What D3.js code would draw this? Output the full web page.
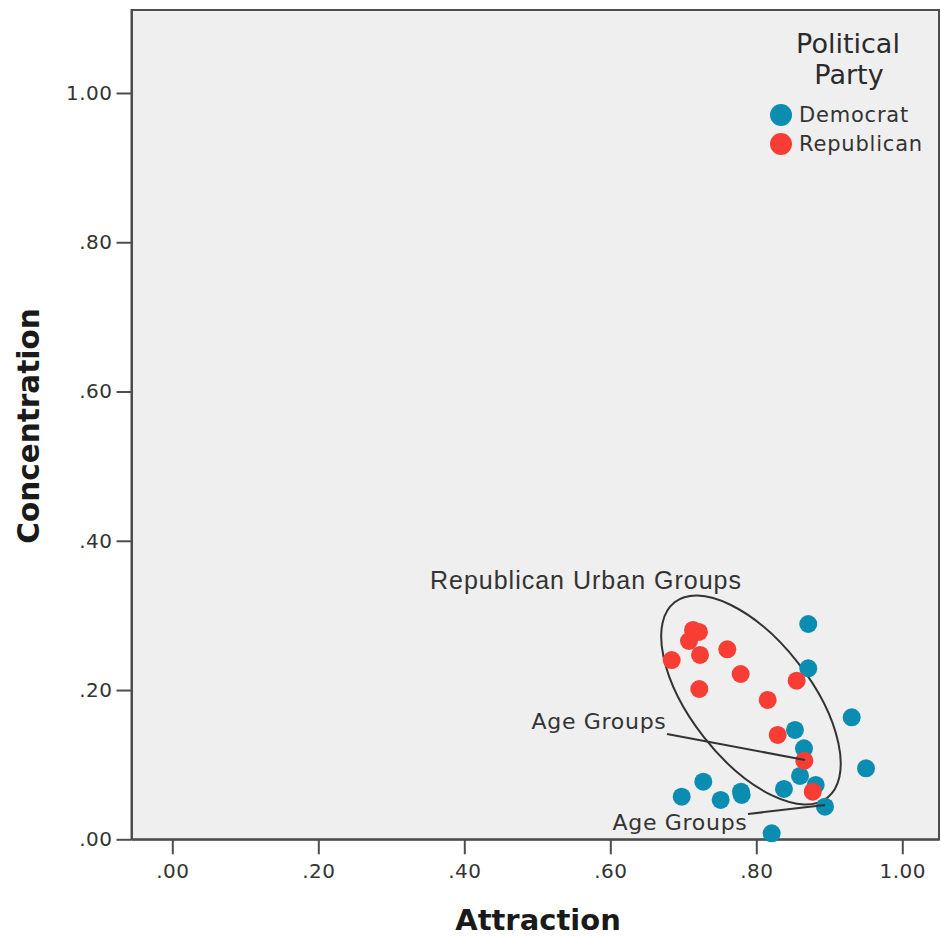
<!DOCTYPE html>
<html>
<head>
<meta charset="utf-8">
<script src="https://cdn.jsdelivr.net/npm/d3@7"></script>
<style>
  html, body { margin: 0; padding: 0; background: #ffffff; }
  svg { display: block; }
  text { font-family: "DejaVu Sans", sans-serif; }
</style>
</head>
<body>
<svg id="chart" width="941" height="937"></svg>
<script>
// ---- data ----
const xTicks = [0, 0.2, 0.4, 0.6, 0.8, 1.0];
const yTicks = [0, 0.2, 0.4, 0.6, 0.8, 1.0];
const parties = ["Democrat", "Republican"];

const democratAttraction = [0.8712, 0.8712, 0.9307, 0.8530, 0.8653, 0.9503, 0.8599, 0.8814, 0.8379, 0.8941, 0.7274, 0.6978, 0.7512, 0.7790, 0.7800, 0.8211];
const democratConcentration = [0.2885, 0.2291, 0.1635, 0.1465, 0.1219, 0.0951, 0.0849, 0.0728, 0.0675, 0.0437, 0.0772, 0.0571, 0.0527, 0.0638, 0.0594, 0.0080];

const republicanAttraction = [0.7133, 0.7215, 0.7078, 0.7229, 0.6841, 0.7603, 0.7786, 0.7219, 0.8553, 0.8156, 0.8293, 0.8658, 0.8773];
const republicanConcentration = [0.2805, 0.2778, 0.2657, 0.2470, 0.2402, 0.2546, 0.2215, 0.2014, 0.2125, 0.1867, 0.1398, 0.1054, 0.0638];

// annotations (data coordinates)
const urbanLabel = { text: "Republican Urban Groups", x: 0.5667, y: 0.3474 };
const urbanEllipse = { cx: 0.7927, cy: 0.1867 };
const ageLabels = [
  { text: "Age Groups", x: 0.5845, y: 0.1585, x1: 0.6777, y1: 0.1411, x2: 0.8667, y2: 0.1063 },
  { text: "Age Groups", x: 0.6955, y: 0.0232, x1: 0.7886, y1: 0.0339, x2: 0.8941, y2: 0.0460 }
];

// ---- layout ----
const svg = d3.select("#chart");
const plotLeft = 131.5, plotRight = 939, plotTop = 10, plotBottom = 839.3;
const colors = { Democrat: "#0b8db1", Republican: "#f83d35" };

const x = d3.scaleLinear().domain([-0.0559, 1.0503]).range([plotLeft, plotRight]);
const y = d3.scaleLinear().domain([0, 1.1112]).range([plotBottom, plotTop]);

// plot background / frame
svg.append("rect")
  .attr("x", plotLeft).attr("y", plotTop)
  .attr("width", plotRight - plotLeft).attr("height", plotBottom - plotTop)
  .attr("fill", "#efefef")
  .attr("stroke", "#4d4d4d").attr("stroke-width", 2);

const fmt = d => d === 0 ? ".00" : (d >= 1 ? d3.format(".2f")(d) : d3.format(".2f")(d).replace(/^0/, ""));

// y axis
const yAxis = svg.append("g")
  .attr("transform", `translate(${plotLeft},0)`)
  .call(d3.axisLeft(y).tickValues(yTicks).tickFormat(fmt).tickSize(15).tickSizeOuter(0).tickPadding(4));
// x axis
const xAxis = svg.append("g")
  .attr("transform", `translate(0,${plotBottom})`)
  .call(d3.axisBottom(x).tickValues(xTicks).tickFormat(fmt).tickSize(15).tickSizeOuter(0).tickPadding(10));

[yAxis, xAxis].forEach(g => {
  g.select(".domain").attr("stroke", "#4d4d4d").attr("stroke-width", 2);
  g.selectAll(".tick line").attr("stroke", "#4d4d4d").attr("stroke-width", 2);
  g.selectAll(".tick text")
    .attr("fill", "#333")
    .style("font-family", "DejaVu Sans, sans-serif")
    .style("font-size", "20px")
    .style("letter-spacing", "0.5px");
});

// axis titles
svg.append("text")
  .attr("x", 538).attr("y", 930)
  .attr("text-anchor", "middle")
  .style("font-weight", "bold").style("font-size", "29px")
  .attr("fill", "#1a1a1a")
  .text("Attraction");
svg.append("text")
  .attr("transform", "translate(39,426) rotate(-90)")
  .attr("text-anchor", "middle")
  .style("font-weight", "bold").style("font-size", "29.5px")
  .attr("fill", "#1a1a1a")
  .text("Concentration");

// ellipse annotation
svg.append("ellipse")
  .attr("transform", `translate(${x(urbanEllipse.cx)},${y(urbanEllipse.cy)}) rotate(52)`)
  .attr("rx", 124).attr("ry", 60)
  .attr("fill", "none").attr("stroke", "#333").attr("stroke-width", 2);

// points
const demData = democratAttraction.map((v, i) => ({ party: "Democrat", x: v, y: democratConcentration[i] }));
const repData = republicanAttraction.map((v, i) => ({ party: "Republican", x: v, y: republicanConcentration[i] }));
svg.append("g").selectAll("circle")
  .data(demData.concat(repData))
  .join("circle")
  .attr("cx", d => x(d.x)).attr("cy", d => y(d.y))
  .attr("r", 9)
  .attr("fill", d => colors[d.party]);

// annotation lines and labels
svg.append("g").selectAll("line")
  .data(ageLabels).join("line")
  .attr("x1", d => x(d.x1)).attr("y1", d => y(d.y1))
  .attr("x2", d => x(d.x2)).attr("y2", d => y(d.y2))
  .attr("stroke", "#333").attr("stroke-width", 2);

svg.append("g").selectAll("text")
  .data(ageLabels).join("text")
  .attr("x", d => x(d.x)).attr("y", d => y(d.y))
  .attr("dy", "0.35em")
  .attr("text-anchor", "middle")
  .attr("fill", "#333")
  .style("font-size", "22px")
  .style("letter-spacing", "0.7px")
  .text(d => d.text);

svg.append("text")
  .attr("x", x(urbanLabel.x)).attr("y", y(urbanLabel.y))
  .attr("dy", "0.35em")
  .attr("text-anchor", "middle")
  .attr("fill", "#333")
  .style("font-family", "Liberation Sans, Arial, sans-serif")
  .style("font-size", "25px")
  .style("letter-spacing", "1px")
  .text(urbanLabel.text);

// legend
const lg = svg.append("g");
lg.append("text").attr("x", 848).attr("y", 53).attr("text-anchor", "middle")
  .style("font-size", "27px").attr("fill", "#2a2a2a").text("Political");
lg.append("text").attr("x", 849).attr("y", 84).attr("text-anchor", "middle")
  .style("font-size", "27px").attr("fill", "#2a2a2a").text("Party");
const items = lg.selectAll("g.item").data(parties).join("g")
  .attr("class", "item")
  .attr("transform", (d, i) => `translate(0,${115 + i * 29})`);
items.append("circle").attr("cx", 781).attr("cy", 0).attr("r", 11).attr("fill", d => colors[d]);
items.append("text").attr("x", 799).attr("y", 0).attr("dy", "0.35em")
  .style("font-size", "21px").style("letter-spacing", "0.8px")
  .attr("fill", "#333").text(d => d);
</script>
</body>
</html>
